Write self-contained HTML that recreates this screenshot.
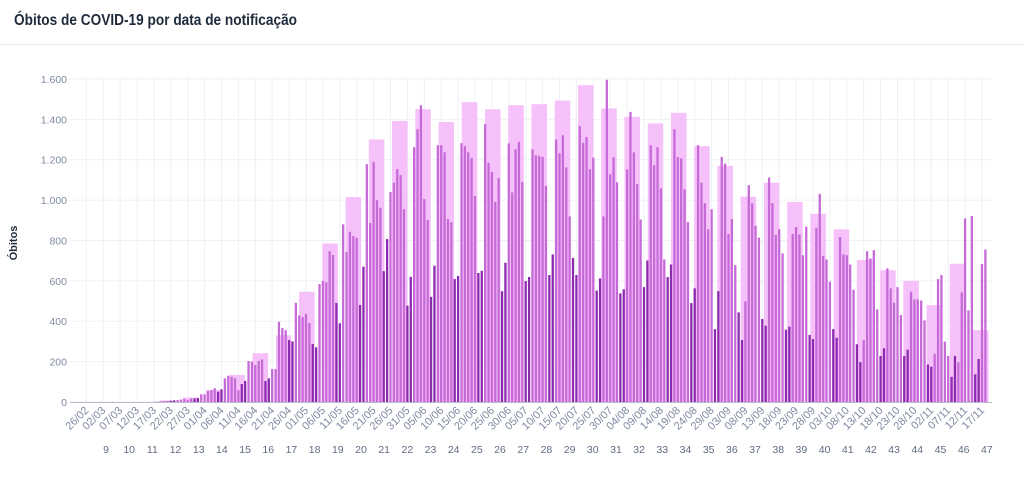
<!DOCTYPE html>
<html><head><meta charset="utf-8"><style>
html,body{margin:0;padding:0;background:#fff;}
svg{display:block;font-family:"Liberation Sans",sans-serif;}
</style></head><body>
<svg id="chart" width="1024" height="485" viewBox="0 0 1024 485" xmlns="http://www.w3.org/2000/svg">
<text x="14" y="25" font-size="16" font-weight="bold" fill="#1f2a3c" textLength="283" lengthAdjust="spacingAndGlyphs">Óbitos de COVID-19 por data de notificação</text>
<line x1="0" y1="44.5" x2="1024" y2="44.5" stroke="#e6ebf2" stroke-width="1"/>
<text transform="translate(17,243) rotate(-90)" text-anchor="middle" font-size="11" font-weight="bold" fill="#1f2a3c">Óbitos</text>
<g id="grid"></g>
<g id="weeks"></g>
<g id="days"></g>
<g id="axes"></g>
</svg>
<script>
const dailyDeaths = [0,0,0,0,0,0,0,0,0,0,0,0,0,0,0,0,0,0,0,0,1,
2,3,4,5,6,8,10,12,15,10,18,18,20,38,38,54,59,68,51,63,117,130,125,117,59,89,104,203,200,183,203,211,104,117,
163,163,397,366,356,307,300,491,429,420,437,391,287,271,584,600,592,
747,728,491,390,880,744,843,822,813,480,670,1178,886,1188,1000,962,648,807,1040,1086,
1153,1124,955,477,620,1262,1351,1470,1005,901,521,675,1272,1272,1237,906,891,609,624,1282,
1267,1237,1208,1020,639,650,1376,1185,1140,991,1109,549,
690,1281,1038,1252,1289,1090,599,619,1252,1222,1219,1214,1071,629,731,1300,1232,1321,1162,919,
714,629,1366,1284,1312,1153,1210,552,612,919,1596,1128,1211,1088,538,558,1152,1437,1236,1079,
904,569,701,1272,1173,1262,1058,706,619,681,1351,1213,1206,1053,891,490,563,1272,1086,984,
856,955,361,549,1214,1181,832,906,678,444,307,
499,1074,984,873,814,411,378,1112,985,827,856,736,358,373,833,866,830,727,868,332,
312,863,1031,724,706,596,361,318,817,731,727,681,556,286,197,307,747,711,752,459,
228,266,662,563,492,569,431,228,259,546,508,508,503,404,186,175,239,609,629,299,
228,125,228,197,543,909,454,921,137,213,683,755];
const weekNumbers = [12,13,14,15,16,17,18,19,20,21,22,23,24,25,26,27,28,29,30,31,32,33,34,35,36,37,38,39,40,41,42,43,44,45,46,47];
const weekValues = [8,22,60,134,242,330,546,785,1015,1300,1392,1450,1387,1485,1450,1470,1475,1493,1569,1454,1412,1380,1432,1267,1170,1017,1086,991,932,855,703,653,600,480,685,356];
const weekLabels = [9,10,11,12,13,14,15,16,17,18,19,20,21,22,23,24,25,26,27,28,29,30,31,32,33,34,35,36,37,38,39,40,41,42,43,44,45,46,47];
const yTicks = [0,200,400,600,800,1000,1200,1400,1600];
const yTickLabels = ["0","200","400","600","800","1.000","1.200","1.400","1.600"];

const NS = "http://www.w3.org/2000/svg";
const xDay = d => 86.3 + d * 3.38;
const yVal = v => 402 - v * 0.2019;
const xWeek = w => 229.4 + (w - 15) * 23.24;
const xWeekLabel = w => 106 + (w - 9) * 23.18;
function mk(tag, attrs, parent){const e=document.createElementNS(NS,tag);for(const k in attrs)e.setAttribute(k,attrs[k]);parent.appendChild(e);return e;}
const grid=document.getElementById('grid'),weeks=document.getElementById('weeks'),days=document.getElementById('days'),axes=document.getElementById('axes');

yTicks.forEach((v,i)=>{
  const l=mk('line',{x1:70,x2:992,y1:yVal(v),y2:yVal(v),stroke:'#edf1f7','stroke-width':1},grid);
  
  
  const t=mk('text',{x:67,y:yVal(v)+4,'text-anchor':'end','font-size':10.5,fill:'#7e8aa2'},axes);
  t.textContent=yTickLabels[i];
  
  
});
const start=new Date(2020,1,26);
for(let d=0; d<=265; d+=5){
  const x=xDay(d);
  const g=mk('line',{x1:x,x2:x,y1:77,y2:402,stroke:'#edf1f7','stroke-width':1},grid);
  
  
  const dt=new Date(start.getTime()+d*86400000);
  const lab=String(dt.getDate()).padStart(2,'0')+'/'+String(dt.getMonth()+1).padStart(2,'0');
  const t=mk('text',{x:x+3,y:411,'text-anchor':'end','font-size':11,fill:'#7e8aa2',transform:`rotate(-45 ${x+3} 411)`},axes);
  t.textContent=lab;
  
  
}
weekNumbers.forEach((w,i)=>{
  const v=weekValues[i];
  const r=mk('rect',{x:xWeek(w),y:yVal(v),width:15.5,height:402-yVal(v),fill:'#f6c0fa'},weeks);
  
  
});
dailyDeaths.forEach((v,d)=>{
  const dow=((d-4)%7+7)%7;
  const dark=(dow===0||dow===1);
  const r=mk('rect',{x:xDay(d)-1.15,y:yVal(v),width:2.3,height:402-yVal(v),fill:dark?'#8d2bb0':'#c66ad8'},days);
  
  
});
const base=mk('line',{x1:70,x2:992,y1:402.5,y2:402.5,stroke:'#b8bec9','stroke-width':1},axes);


weekLabels.forEach(w=>{
  const t=mk('text',{x:xWeekLabel(w),y:453,'text-anchor':'middle','font-size':10.5,fill:'#5f6b82'},axes);
  t.textContent=w;
  
  
});
</script>
</body></html>
